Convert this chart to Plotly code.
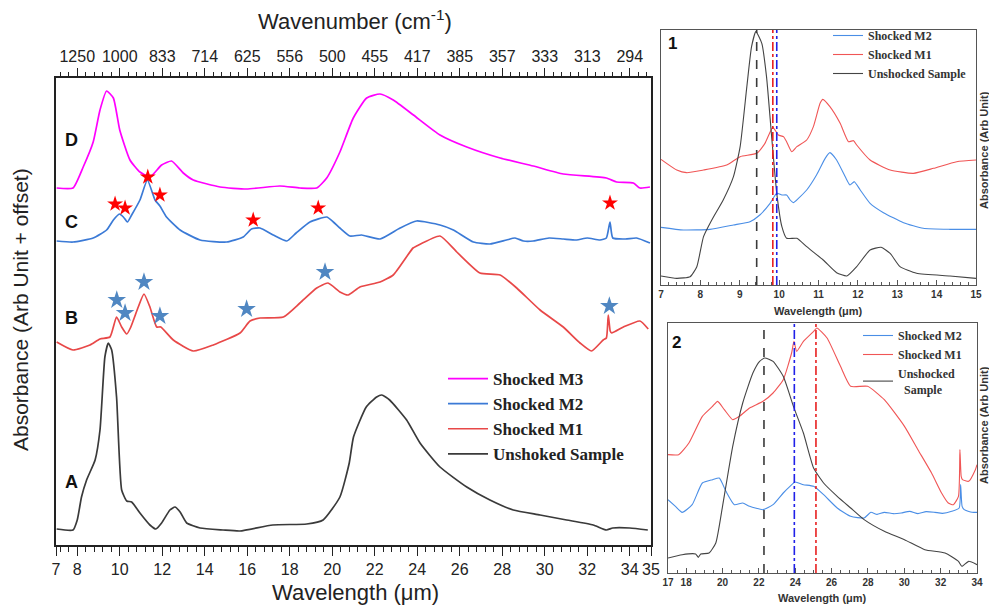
import plotly.graph_objects as go

# ---------------- main panel data (wavelength in micrometres, absorbance arb. units + offset)
wl_A = [7.03, 7.8, 8.0, 8.2, 8.44, 8.84, 9.07, 9.3, 9.46, 9.62, 9.85, 10.09, 10.33, 10.56, 10.95, 11.42, 11.7,
        11.97, 12.36, 12.6, 12.84, 13.15, 13.78, 14.86, 15.66, 17.2, 18.8, 19.57, 20.36, 20.8, 21.0, 21.6, 22.09,
        22.33, 22.7, 23.5, 24.13, 25.07, 26.33, 27.42, 28.52, 29.78, 31.03, 32.28, 32.9, 33.2, 34.0, 34.85]
ab_A = [0.16, 0.15, 0.25, 0.48, 0.65, 0.85, 1.15, 1.88, 2.02, 1.95, 1.48, 0.55, 0.44, 0.43, 0.32, 0.20, 0.16,
        0.22, 0.35, 0.38, 0.33, 0.22, 0.17, 0.15, 0.14, 0.20, 0.21, 0.25, 0.48, 0.82, 1.08, 1.38, 1.48,
        1.50, 1.45, 1.25, 1.02, 0.78, 0.58, 0.45, 0.35, 0.30, 0.25, 0.20, 0.15, 0.17, 0.17, 0.15]

wl_B = [7.03, 7.8, 8.6, 9.07, 9.54, 9.85, 10.09, 10.33, 10.5, 10.87, 11.14, 11.42, 11.74, 11.93, 12.52, 13.46,
        14.4, 15.66, 16.13, 16.6, 17.7, 18.48, 19.27, 19.8, 20.36, 20.75, 21.3, 22.25, 22.87, 23.8, 23.97, 25.07,
        25.86, 26.95, 27.9, 28.68, 29.78, 30.87, 31.66, 32.2, 32.75, 32.9, 32.99, 33.08, 33.15, 33.7, 34.48, 34.87]
ab_B = [2.03, 1.95, 2.00, 2.06, 2.08, 2.28, 2.18, 2.11, 2.17, 2.38, 2.51, 2.38, 2.18, 2.18, 2.05, 1.94,
        2.00, 2.12, 2.24, 2.27, 2.28, 2.42, 2.57, 2.62, 2.53, 2.50, 2.58, 2.63, 2.70, 2.97, 2.99, 3.09,
        2.93, 2.72, 2.70, 2.57, 2.35, 2.18, 2.02, 1.94, 2.05, 2.07, 2.30, 2.14, 2.12, 2.18, 2.24, 2.16]

wl_C = [7.03, 7.8, 8.75, 9.38, 9.7, 9.98, 10.17, 10.36, 10.56, 10.95, 11.3, 11.66, 11.89, 12.2, 12.84, 13.78,
        15.03, 15.81, 16.2, 16.6, 17.22, 17.86, 18.3, 18.95, 19.74, 20.05, 20.36, 20.83, 21.38, 22.25, 23.19,
        23.97, 25.07, 25.7, 26.64, 27.42, 28.2, 28.6, 29.0, 29.46, 30.2, 30.87, 31.5, 32.0, 32.6, 32.9, 33.07,
        33.2, 33.8, 34.32, 34.95]
ab_C = [3.04, 3.03, 3.07, 3.15, 3.25, 3.31, 3.28, 3.23, 3.30, 3.45, 3.65, 3.45, 3.39, 3.28, 3.15, 3.05,
        3.03, 3.08, 3.16, 3.17, 3.10, 3.04, 3.12, 3.23, 3.28, 3.23, 3.17, 3.09, 3.10, 3.06, 3.17,
        3.24, 3.20, 3.15, 3.03, 3.01, 3.05, 3.07, 3.04, 3.04, 3.07, 3.06, 3.05, 3.07, 3.05, 3.07, 3.23,
        3.07, 3.06, 3.07, 3.02]

wl_D = [7.03, 7.8, 8.28, 8.75, 9.07, 9.38, 9.7, 10.0, 10.48, 10.95, 11.42, 11.97, 12.44, 12.99, 13.46, 14.72,
        15.97, 17.54, 18.48, 19.27, 19.74, 20.36, 20.99, 21.62, 22.25, 22.87, 23.82, 25.07, 26.33, 27.9, 29.46,
        30.87, 32.9, 33.38, 34.17, 34.48, 34.95]
ab_D = [3.57, 3.57, 3.78, 4.03, 4.35, 4.54, 4.47, 4.15, 3.85, 3.73, 3.68, 3.80, 3.84, 3.72, 3.65, 3.58,
        3.56, 3.59, 3.57, 3.57, 3.67, 3.93, 4.27, 4.47, 4.51, 4.45, 4.30, 4.10, 3.98, 3.87, 3.79,
        3.71, 3.67, 3.63, 3.62, 3.57, 3.58]

star_red_wl = [9.78, 10.25, 11.32, 11.89, 16.28, 19.34, 33.07]
star_red_ab = [3.41, 3.37, 3.68, 3.50, 3.25, 3.37, 3.42]
star_blue_wl = [9.86, 10.25, 11.14, 11.89, 15.97, 19.66, 33.04]
star_blue_ab = [2.45, 2.32, 2.63, 2.29, 2.36, 2.73, 2.39]

bottom_ticks = [7, 8, 10, 12, 14, 16, 18, 20, 22, 24, 26, 28, 30, 32, 34, 35]
top_tick_wl = [8, 10, 12, 14, 16, 18, 20, 22, 24, 26, 28, 30, 32, 34]
top_tick_wn = ["1250", "1000", "833", "714", "625", "556", "500", "455", "417", "385", "357", "333", "313", "294"]

# ---------------- inset 1 data (7-15 um)
i1_wl_K = [7.0, 7.40, 7.74, 7.91, 8.08, 8.29, 8.58, 8.84, 9.01, 9.18, 9.30, 9.41, 9.56, 9.68, 9.81, 9.94, 10.07,
           10.19, 10.45, 10.70, 11.12, 11.46, 11.72, 11.97, 12.31, 12.59, 12.82, 13.07, 13.49, 14.34, 15.0]
i1_ab_K = [0.27, 0.20, 0.25, 0.55, 1.45, 1.95, 2.55, 3.25, 4.15, 5.95, 7.15, 7.60, 7.25, 6.25, 4.45, 2.75, 1.75,
           1.40, 1.40, 1.15, 0.75, 0.37, 0.27, 0.55, 1.05, 1.13, 0.95, 0.55, 0.35, 0.27, 0.20]
i1_wl_R = [7.0, 7.40, 7.65, 8.08, 8.67, 9.01, 9.43, 9.64, 9.84, 9.98, 10.11, 10.19, 10.32, 10.45, 10.70, 10.87,
           11.04, 11.11, 11.29, 11.55, 11.76, 11.89, 11.97, 12.31, 12.82, 13.41, 13.92, 14.51, 15.0]
i1_ab_R = [3.77, 3.45, 3.37, 3.45, 3.60, 3.85, 3.95, 4.25, 4.73, 4.50, 4.45, 4.30, 4.00, 4.15, 4.35, 4.75,
           5.45, 5.57, 5.35, 4.85, 4.30, 4.33, 4.20, 3.75, 3.45, 3.35, 3.50, 3.70, 3.75]
i1_wl_B = [7.0, 7.57, 8.24, 8.84, 9.26, 9.51, 9.77, 9.94, 10.07, 10.19, 10.28, 10.36, 10.49, 10.70, 10.95, 11.17,
           11.29, 11.46, 11.72, 11.80, 11.91, 12.06, 12.31, 12.65, 13.16, 13.66, 14.34, 15.0]
i1_ab_B = [1.73, 1.65, 1.67, 1.80, 1.90, 2.10, 2.45, 2.75, 2.70, 2.70, 2.55, 2.47, 2.60, 2.85, 3.30, 3.80,
           3.97, 3.75, 3.15, 3.00, 3.10, 2.85, 2.45, 2.17, 1.87, 1.70, 1.67, 1.67]
i1_peaks = [9.43, 9.84, 9.94]   # unshocked, M1, M2

# ---------------- inset 2 data (17-34 um)
i2_wl_K = [17.0, 17.78, 18.52, 18.67, 18.80, 19.26, 19.63, 20.00, 20.56, 21.11, 21.67, 22.04, 22.32, 22.78, 23.34,
           23.90, 24.45, 25.01, 25.56, 26.31, 27.05, 27.79, 28.90, 30.01, 31.13, 32.24, 32.98, 33.17, 33.54, 34.0]
i2_ab_K = [0.45, 0.55, 0.57, 0.47, 0.57, 0.60, 0.90, 2.00, 3.80, 5.10, 6.00, 6.35, 6.45, 6.35, 5.90,
           5.00, 4.20, 3.15, 2.70, 2.30, 1.95, 1.60, 1.25, 1.00, 0.70, 0.60, 0.35, 0.20, 0.35, 0.25]
i2_wl_R = [17.0, 17.59, 18.15, 18.89, 19.45, 19.73, 20.10, 20.56, 20.93, 21.49, 22.23, 22.78, 23.34, 23.80, 23.93,
           24.08, 24.45, 25.01, 25.19, 25.75, 26.49, 27.05, 27.98, 28.90, 30.01, 30.75, 31.50, 32.05, 32.42, 32.70,
           32.98, 33.06, 33.13, 33.20, 33.54, 33.91, 34.0]
i2_ab_R = [3.55, 3.55, 3.90, 4.70, 5.00, 5.15, 4.90, 4.60, 4.70, 4.95, 5.15, 5.40, 5.80, 6.60, 6.95,
           6.65, 6.95, 7.25, 7.35, 7.05, 6.20, 5.60, 5.60, 5.20, 4.40, 3.70, 3.00, 2.40, 2.10, 2.05,
           2.30, 3.70, 2.90, 2.80, 2.75, 3.10, 3.25]
i2_wl_B = [17.0, 17.41, 17.78, 18.33, 18.89, 19.45, 19.82, 20.19, 20.65, 21.11, 21.49, 22.23, 22.78, 23.34, 23.71,
           23.99, 24.45, 25.01, 25.56, 26.31, 27.05, 27.79, 28.16, 28.5, 28.90, 29.4, 29.83, 30.3, 30.75, 31.2,
           31.68, 32.1, 32.61, 33.02, 33.10, 33.18, 33.30, 33.73, 34.0]
i2_ab_B = [2.20, 2.00, 1.82, 2.05, 2.70, 2.80, 2.85, 2.45, 2.05, 2.10, 2.00, 1.90, 2.05, 2.40, 2.60,
           2.73, 2.65, 2.60, 2.35, 1.95, 1.70, 1.65, 1.82, 1.76, 1.82, 1.78, 1.80, 1.85, 1.78, 1.84,
           1.82, 1.79, 1.85, 1.95, 2.65, 2.00, 1.90, 1.82, 1.82]
i2_peaks = [22.28, 25.14, 23.95]   # unshocked, M1, M2

W, H = 989, 608
def PX(p): return p / W
def PY(p): return 1 - p / H

C_MAG = "#ff00ff"
C_BLU = "#3b7ad6"
C_RED = "#e84848"
C_BLK = "#3a3a3a"
C_STARB = "#5087c2"
C_IBLU = "#4a8ee6"
C_IRED = "#f05555"
C_IBLK = "#444444"

SANS = "Liberation Sans, Arial, sans-serif"
SERIF = "Liberation Serif, Times New Roman, serif"

fig = go.Figure()

main_series = [("Shocked M3", wl_D, ab_D, C_MAG), ("Shocked M2", wl_C, ab_C, C_BLU),
               ("Shocked M1", wl_B, ab_B, C_RED), ("Unshoked Sample", wl_A, ab_A, C_BLK)]
for i, (name, xs, ys, col) in enumerate(main_series):
    fig.add_trace(go.Scatter(x=xs, y=ys, mode="lines", name=name, line=dict(color=col, width=1.7, shape="spline", smoothing=0.5),
                             xaxis="x", yaxis="y", legend="legend", legendrank=i + 1))

fig.add_trace(go.Scatter(x=star_red_wl, y=star_red_ab, mode="markers", showlegend=False,
                         marker=dict(symbol="star", size=12, color="#ff0000", line=dict(width=0)), xaxis="x", yaxis="y"))
fig.add_trace(go.Scatter(x=star_blue_wl, y=star_blue_ab, mode="markers", showlegend=False,
                         marker=dict(symbol="star", size=14, color=C_STARB, line=dict(width=0)), xaxis="x", yaxis="y"))
# invisible trace for top axis
fig.add_trace(go.Scatter(x=[7, 35], y=[0, 0], mode="lines", line=dict(width=0), opacity=0, showlegend=False,
                         hoverinfo="skip", xaxis="x2", yaxis="y"))

inset1 = [("Shocked M2", i1_wl_B, i1_ab_B, C_IBLU), ("Shocked M1", i1_wl_R, i1_ab_R, C_IRED),
          ("Unshocked Sample", i1_wl_K, i1_ab_K, C_IBLK)]
for i, (name, xs, ys, col) in enumerate(inset1):
    fig.add_trace(go.Scatter(x=xs, y=ys, mode="lines", name=name, line=dict(color=col, width=1.1, shape="spline", smoothing=0.5),
                             xaxis="x3", yaxis="y3", legend="legend2", legendrank=i + 1))
inset2 = [("Shocked M2", i2_wl_B, i2_ab_B, C_IBLU), ("Shocked M1", i2_wl_R, i2_ab_R, C_IRED),
          ("Unshocked<br>  Sample", i2_wl_K, i2_ab_K, C_IBLK)]
for i, (name, xs, ys, col) in enumerate(inset2):
    fig.add_trace(go.Scatter(x=xs, y=ys, mode="lines", name=name, line=dict(color=col, width=1.1, shape="spline", smoothing=0.5),
                             xaxis="x4", yaxis="y4", legend="legend3", legendrank=i + 1))

# vertical peak markers in insets
vstyle = [(C_BLK, "dash"), ("#e82020", "dashdot"), ("#2020e8", "dashdot")]
shapes = []
for (xa, ya, peaks) in [("x3", "y3", i1_peaks), ("x4", "y4", i2_peaks)]:
    for p, (col, dash) in zip(peaks, vstyle):
        shapes.append(dict(type="line", xref=xa, yref=ya + " domain", x0=p, x1=p, y0=0, y1=1,
                           line=dict(color=col, width=1.6, dash=dash)))

main_dom_x = [PX(56), PX(651)]
main_dom_y = [PY(545), PY(78)]
i1_dom_x = [PX(661), PX(976)]
i1_dom_y = [PY(285), PY(30)]
i2_dom_x = [PX(668), PX(977)]
i2_dom_y = [PY(573), PY(323)]

tickfont_main = dict(family=SANS, size=16, color="#222")
inset_tick = dict(family=SANS, size=10, color="#333", weight="bold")

fig.update_layout(
    width=W, height=H, margin=dict(l=0, r=0, t=0, b=0, autoexpand=False),
    paper_bgcolor="white", plot_bgcolor="white", showlegend=True,
    xaxis=dict(domain=main_dom_x, range=[7, 35], anchor="y", tickmode="array", tickvals=bottom_ticks,
               ticktext=[str(v) for v in bottom_ticks], ticks="outside", ticklen=9, tickwidth=1.3, tickcolor="#222",
               minor=dict(tick0=8, dtick=0.4, ticks="outside", ticklen=5, tickwidth=1, tickcolor="#222"),
               showline=True, linecolor="#222", linewidth=1.6, mirror=True, showgrid=False, zeroline=False,
               tickfont=tickfont_main, tickangle=0, automargin=False),
    xaxis2=dict(overlaying="x", side="top", anchor="y", range=[7, 35], tickmode="array", tickvals=top_tick_wl,
                ticktext=top_tick_wn, ticks="outside", ticklen=9, tickwidth=1.3, tickcolor="#222",
                minor=dict(tick0=8, dtick=0.4, ticks="outside", ticklen=5, tickwidth=1, tickcolor="#222"),
                showline=False, showgrid=False, zeroline=False, tickfont=tickfont_main, tickangle=0,
                automargin=False),
    yaxis=dict(domain=main_dom_y, range=[0, 4.67], anchor="x", showticklabels=False, ticks="", showgrid=False,
               zeroline=False, showline=True, linecolor="#222", linewidth=1.6, mirror=True, automargin=False),
    xaxis3=dict(domain=i1_dom_x, range=[7, 15], anchor="y3", dtick=1, tick0=7, ticks="inside", ticklen=5,
                tickcolor="#555", minor=dict(dtick=0.2, ticks="inside", ticklen=3, tickcolor="#555"),
                showline=True, linecolor="#555", linewidth=1, mirror=True, showgrid=False, zeroline=False,
                tickfont=inset_tick, tickangle=0, automargin=False),
    yaxis3=dict(domain=i1_dom_y, range=[0, 7.65], anchor="x3", showticklabels=False, ticks="", showgrid=False,
                zeroline=False, showline=True, linecolor="#555", linewidth=1, mirror=True, automargin=False),
    xaxis4=dict(domain=i2_dom_x, range=[17, 34], anchor="y4", tickmode="array",
                tickvals=[17, 18, 20, 22, 24, 26, 28, 30, 32, 34], ticks="inside", ticklen=5, tickcolor="#555",
                minor=dict(tick0=18, dtick=0.5, ticks="inside", ticklen=3, tickcolor="#555"),
                showline=True, linecolor="#555", linewidth=1, mirror=True, showgrid=False, zeroline=False,
                tickfont=inset_tick, tickangle=0, automargin=False),
    yaxis4=dict(domain=i2_dom_y, range=[0, 7.5], anchor="x4", showticklabels=False, ticks="", showgrid=False,
                zeroline=False, showline=True, linecolor="#555", linewidth=1, mirror=True, automargin=False),
    legend=dict(x=PX(443), y=PY(361), xanchor="left", yanchor="top", bgcolor="rgba(0,0,0,0)",
                font=dict(family=SERIF, size=17, color="#222", weight="bold"), itemwidth=40),
    legend2=dict(x=PX(828), y=PY(21), xanchor="left", yanchor="top", bgcolor="rgba(0,0,0,0)",
                 font=dict(family=SERIF, size=12, color="#333", weight="bold"), itemwidth=30),
    legend3=dict(x=PX(858), y=PY(321), xanchor="left", yanchor="top", bgcolor="rgba(0,0,0,0)",
                 font=dict(family=SERIF, size=12, color="#333", weight="bold"), itemwidth=30),
    shapes=shapes,
)

def A(text, px, py, size, color="#222", weight="normal", angle=0):
    return dict(text=text, x=PX(px), y=PY(py), xref="paper", yref="paper", xanchor="center", yanchor="middle",
                showarrow=False, textangle=angle, font=dict(family=SANS, size=size, color=color, weight=weight))

ann = [
    A("Wavenumber (cm<sup>-1</sup>)", 355, 20, 22),
    A("Wavelength (μm)", 355, 592, 22),
    A("Absorbance (Arb Unit + offset)", 21, 310, 21, angle=-90),
]
for lab, py in [("A", 482), ("B", 318), ("C", 222), ("D", 140)]:
    ann.append(A(lab, 71, py, 18, "#111", "bold"))
ann += [
    A("1", 672, 43, 17, "#111", "bold"),
    A("2", 676, 342, 17, "#111", "bold"),
    A("Wavelength (μm)", 818, 311, 11, "#333", "bold"),
    A("Wavelength (μm)", 822, 598, 11, "#333", "bold"),
    A("Absorbance (Arb Unit)", 984, 150, 11, "#333", "bold", -90),
    A("Absorbance (Arb Unit)", 984, 425, 11, "#333", "bold", -90),
]
fig.update_layout(annotations=ann)

fig.write_html("out.html", post_script="document.body.style.margin='0';",
               config={"displayModeBar": False})
